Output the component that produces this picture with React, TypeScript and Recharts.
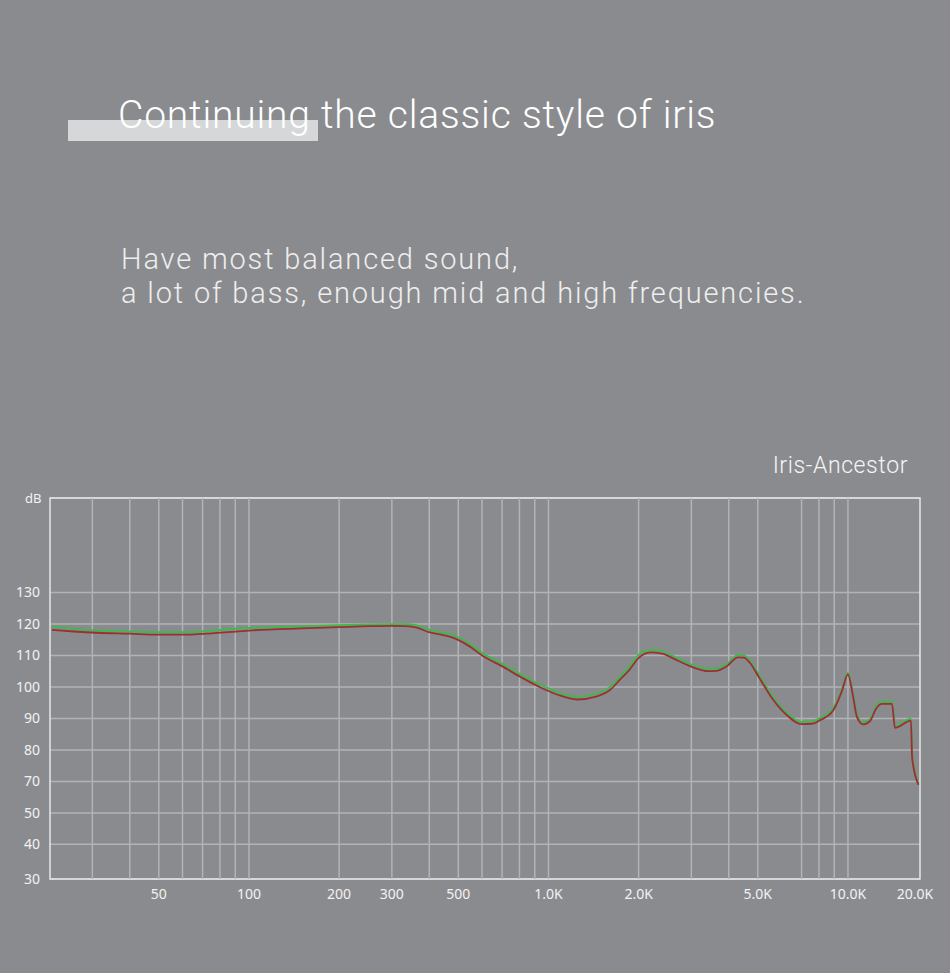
import { LineChart, Line, XAxis, YAxis, CartesianGrid, ReferenceLine, ReferenceArea } from "recharts"

const freqs = [
  22, 26, 31, 40, 49, 60, 72, 85, 100, 150, 201, 254, 300, 332, 364, 402, 448, 495, 547, 604, 699, 816,
  937, 1068, 1245, 1452, 1604, 1733, 1871, 1990, 2100, 2216, 2412, 2706, 3038, 3409, 3681, 3945, 4293,
  4496, 4709, 5085, 5619, 6257, 6968, 7584, 8063, 8912, 9549, 10000, 10390, 10720, 11220, 11840, 12400,
  12990, 14030, 14350, 16230, 16380, 17200,
]

// red channel, dB
const redDb = [
  118.1, 117.6, 117.2, 116.9, 116.6, 116.6, 116.9, 117.4, 117.9, 118.6, 119.0, 119.3, 119.4, 119.3, 118.8,
  117.3, 116.4, 115.1, 112.8, 109.8, 106.6, 102.9, 99.9, 97.6, 96.0, 97.0, 99.0, 102.3, 105.6, 109.0, 110.6,
  111.0, 110.5, 108.3, 106.2, 105.0, 105.2, 106.6, 109.4, 109.3, 107.6, 102.5, 96.0, 91.0, 88.2, 88.3, 89.4,
  92.4, 98.7, 104.0, 97.2, 90.4, 88.1, 89.1, 93.0, 94.6, 94.6, 87.0, 89.3, 77.4, 68.9,
]

// green channel, dB
const greenDb = [
  119.1, 118.4, 117.9, 117.6, 117.4, 117.4, 117.7, 118.3, 118.7, 119.2, 119.6, 119.8, 119.9, 119.9, 119.5,
  118.1, 117.1, 115.9, 113.6, 110.6, 107.4, 103.7, 100.7, 98.4, 96.8, 97.8, 99.9, 103.2, 106.6, 109.9, 111.4,
  111.7, 111.2, 109.0, 106.9, 105.7, 105.9, 107.3, 110.1, 110.0, 108.3, 103.2, 96.7, 91.7, 88.9, 89.0, 90.1,
  93.1, 99.3, 104.4, 97.9, 91.1, 88.7, 89.7, 93.7, 95.3, 95.3, 87.6, 89.9, 78.0, 69.3,
]

const xTicks = [50, 100, 200, 300, 500, 1000, 2000, 5000, 10000, 16750]
const xTickLabels = ["50", "100", "200", "300", "500", "1.0K", "2.0K", "5.0K", "10.0K", "20.0K"]
const gridFreqs = [30, 40, 50, 60, 70, 80, 90, 100, 200, 300, 400, 500, 600, 700, 800, 900, 1000, 2000, 3000, 4000, 5000, 7000, 8000, 9000, 10000]

// the printed scale is not even at the bottom, so labels are kept apart from positions
const yTicks = [39, 50, 60, 70, 80, 90, 100, 110, 120, 130]
const yTickLabels = ["30", "40", "50", "70", "80", "90", "100", "110", "120", "130"]

const X_MIN = 21.66
const X_MAX = 17400
const Y_MIN = 39
const Y_MAX = 160

const data = freqs.map((f, i) => ({ f, red: redDb[i], green: greenDb[i] }))

const BG = "#8a8b8f"
const GRID = "#b2b3b6"
const tickStyle = { fontSize: 14, fill: "#f2f2f2", fontFamily: "'Noto Sans', sans-serif" }

export default function App() {
  return (
    <div
      style={{
        position: "absolute",
        left: 0,
        top: 0,
        width: 950,
        height: 973,
        background: BG,
        overflow: "hidden",
        fontFamily: "Roboto, 'Liberation Sans', sans-serif",
      }}
    >
      <div style={{ position: "absolute", left: 68, top: 120, width: 250, height: 21, background: "#d6d7d9" }} />
      <div
        style={{
          position: "absolute",
          left: 118,
          top: 96,
          fontSize: 39,
          lineHeight: "39px",
          fontWeight: 300,
          letterSpacing: 0.8,
          color: "#ffffff",
          whiteSpace: "nowrap",
        }}
      >
        Continuing the classic style of iris
      </div>
      <div
        style={{
          position: "absolute",
          left: 121,
          top: 242,
          fontSize: 29,
          lineHeight: "34px",
          fontWeight: 300,
          letterSpacing: 1.85,
          color: "#eeeeee",
          whiteSpace: "nowrap",
        }}
      >
        Have most balanced sound,
        <br />
        a lot of bass, enough mid and high frequencies.
      </div>
      <div
        style={{
          position: "absolute",
          right: 42,
          top: 454,
          fontSize: 23,
          lineHeight: "23px",
          fontWeight: 300,
          letterSpacing: 0.6,
          color: "#f5f5f5",
          whiteSpace: "nowrap",
        }}
      >
        Iris-Ancestor
      </div>
      <div
        style={{
          position: "absolute",
          left: 25,
          top: 490,
          fontSize: 13,
          lineHeight: "16px",
          color: "#f2f2f2",
          fontFamily: "'Noto Sans', sans-serif",
        }}
      >
        dB
      </div>

      <div style={{ position: "absolute", left: 0, top: 440 }}>
        <LineChart width={950} height={480} data={data} margin={{ top: 58, right: 30, left: 10, bottom: 11 }}>
          <CartesianGrid vertical={false} stroke={GRID} strokeWidth={1.5} />
          {gridFreqs.map((v) => (
            <ReferenceLine key={v} x={v} stroke={GRID} strokeWidth={1.5} />
          ))}
          <XAxis
            dataKey="f"
            type="number"
            scale="log"
            domain={[X_MIN, X_MAX]}
            allowDataOverflow
            ticks={xTicks}
            tickFormatter={(v) => xTickLabels[xTicks.indexOf(v)] ?? ""}
            tick={tickStyle}
            tickSize={0}
            tickMargin={10}
            axisLine={false}
            tickLine={false}
            height={30}
            interval={0}
          />
          <YAxis
            type="number"
            domain={[Y_MIN, Y_MAX]}
            allowDataOverflow
            ticks={yTicks}
            tickFormatter={(v) => yTickLabels[yTicks.indexOf(v)] ?? ""}
            tick={tickStyle}
            tickSize={0}
            tickMargin={10}
            axisLine={false}
            tickLine={false}
            width={40}
            interval={0}
          />
          <Line
            type="monotone"
            dataKey="green"
            stroke="#3fb84c"
            strokeWidth={2}
            dot={false}
            isAnimationActive={false}
          />
          <Line
            type="monotone"
            dataKey="red"
            stroke="#a02d35"
            strokeWidth={1.8}
            dot={false}
            isAnimationActive={false}
          />
          <ReferenceArea x1={X_MIN} x2={X_MAX} y1={Y_MIN} y2={Y_MAX} fill="none" stroke="#e6e6e6" strokeWidth={1.5} />
        </LineChart>
      </div>
    </div>
  )
}
